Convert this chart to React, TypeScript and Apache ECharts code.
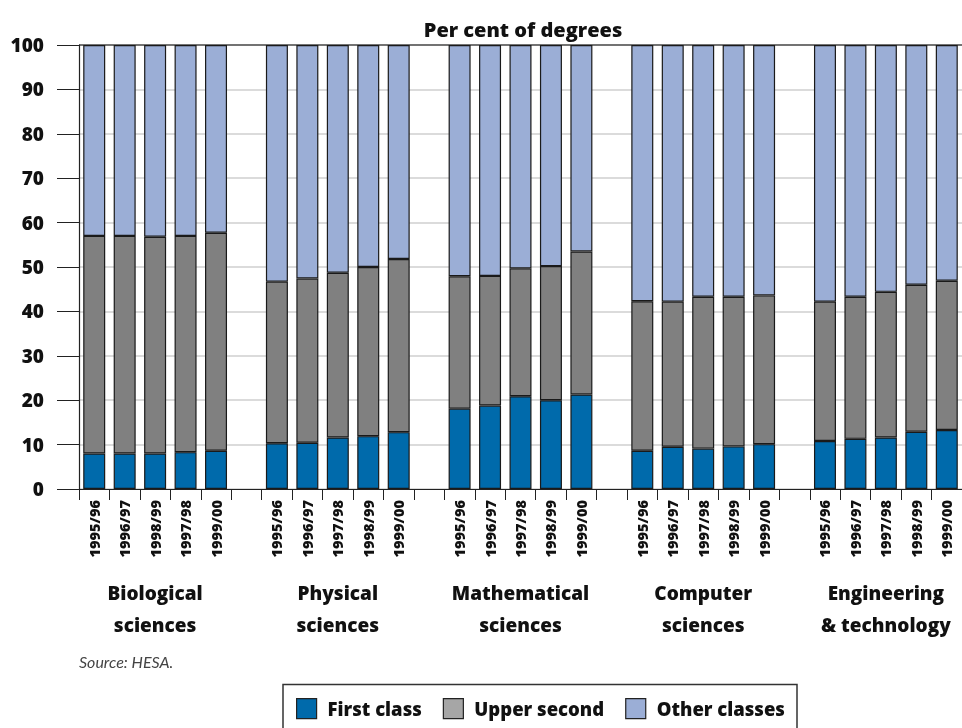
import React, { useEffect, useRef } from "react";
import * as echarts from "echarts";

const groupNames = [
  "Biological\nsciences",
  "Physical\nsciences",
  "Mathematical\nsciences",
  "Computer\nsciences",
  "Engineering\n& technology",
];
const yearLabels = [
  ["1995/96", "1996/97", "1998/99", "1997/98", "1999/00"],
  ["1995/96", "1996/97", "1997/98", "1998/99", "1999/00"],
  ["1995/96", "1996/97", "1997/98", "1998/99", "1999/00"],
  ["1995/96", "1996/97", "1997/98", "1998/99", "1999/00"],
  ["1995/96", "1996/97", "1997/98", "1998/99", "1999/00"],
];
const firstClass = [
  [8.0, 8.0, 8.0, 8.3, 8.6],
  [10.3, 10.4, 11.6, 11.9, 12.8],
  [18.1, 18.8, 20.9, 20.0, 21.3],
  [8.6, 9.5, 9.1, 9.6, 10.1],
  [10.8, 11.3, 11.6, 12.9, 13.3],
];
const upperSecond = [
  [49.0, 49.0, 48.8, 48.7, 49.1],
  [36.4, 37.0, 37.1, 38.1, 39.0],
  [29.8, 29.2, 28.8, 30.2, 32.2],
  [33.7, 32.7, 34.2, 33.7, 33.5],
  [31.4, 32.0, 32.8, 33.1, 33.6],
];
const otherClasses = [
  [43.0, 43.0, 43.2, 43.0, 42.3],
  [53.3, 52.6, 51.3, 50.0, 48.2],
  [52.1, 52.0, 50.3, 49.8, 46.5],
  [57.7, 57.8, 56.7, 56.7, 56.4],
  [57.8, 56.7, 55.6, 54.0, 53.1],
];
const yTicks = [0, 10, 20, 30, 40, 50, 60, 70, 80, 90, 100];
const seriesNames = ["First class", "Upper second", "Other classes"];

const FONT = "'Open Sans', Lato, sans-serif";
const W = 800;

function flatten(groups: (string | number)[][], gap: string | number): (string | number)[] {
  const out: (string | number)[] = [];
  groups.forEach((g, i) => {
    if (i > 0) out.push(gap);
    g.forEach((v) => out.push(v));
  });
  return out;
}

export default function App() {
  const ref = useRef<HTMLDivElement>(null);
  useEffect(() => {
    if (!ref.current) return;
    const chart = echarts.init(ref.current, null, { renderer: "svg" });
    const cats = flatten(yearLabels, "");
    const catKeys = cats.map((c, i) => `${i}`);
    const groupAxis: string[] = catKeys.map(() => "");
    groupNames.forEach((g, i) => {
      groupAxis[i * 6 + 2] = g;
    });
    const gridColors = yTicks.map((t) => (t === 100 ? "#444" : "#cfcfcf"));
    chart.setOption({
      animation: false,
      title: {
        text: "Per cent of degrees",
        left: 523,
        textAlign: "center",
        top: 19,
        padding: 0,
        textStyle: { fontFamily: FONT, fontWeight: W, fontSize: 20, color: "#111" },
      },
      grid: { left: 79, right: -6, top: 45, bottom: 239, containLabel: false },
      legend: {
        left: 296,
        top: 698,
        padding: 0,
        itemWidth: 20,
        itemHeight: 20,
        itemGap: 21,
        icon: "rect",
        selectedMode: false,
        textStyle: {
          fontFamily: FONT,
          fontWeight: W,
          fontSize: 18.5,
          color: "#111",
          padding: [0, 0, 0, 6],
        },
        data: [
          { name: seriesNames[0], itemStyle: { color: "#006AAB", borderColor: "#222", borderWidth: 1.2 } },
          { name: seriesNames[1], itemStyle: { color: "#A6A6A6", borderColor: "#222", borderWidth: 1.2 } },
          { name: seriesNames[2], itemStyle: { color: "#9BAED6", borderColor: "#222", borderWidth: 1.2 } },
        ],
      },
      graphic: [
        {
          type: "rect",
          shape: { x: 283, y: 684.5, width: 514, height: 60 },
          style: { fill: "none", stroke: "#333", lineWidth: 1.5 },
          silent: true,
        },
        {
          type: "text",
          left: 79,
          top: 653,
          style: {
            text: "Source: HESA.",
            fontFamily: "Lato, sans-serif",
            fontStyle: "italic",
            fontSize: 16,
            fill: "#444",
          },
        },
      ],
      xAxis: [
        {
          type: "category",
          data: catKeys,
          axisLine: { show: true, lineStyle: { color: "#222", width: 1.2 } },
          axisTick: { show: true, length: 11, lineStyle: { color: "#222" } },
          axisLabel: {
            interval: 0,
            rotate: 90,
            margin: 11,
            fontFamily: FONT,
            fontWeight: W,
            fontSize: 14.5,
            color: "#111",
            formatter: (v: string) => cats[Number(v)] as string,
          },
          splitLine: { show: false },
        },
        {
          type: "category",
          position: "bottom",
          data: groupAxis.map((g, i) => (g ? g : `_${i}`)),
          axisLine: { show: false },
          axisTick: { show: false },
          axisLabel: {
            interval: 0,
            margin: 88,
            fontFamily: FONT,
            fontWeight: W,
            fontSize: 19,
            lineHeight: 32,
            color: "#111",
            formatter: (v: string) => (v.startsWith("_") ? "" : v),
          },
        },
      ],
      yAxis: {
        type: "value",
        min: 0,
        max: 100,
        interval: 10,
        axisLine: { show: true, lineStyle: { color: "#222", width: 1.2 } },
        axisTick: { show: true, length: 22, lineStyle: { color: "#222" } },
        axisLabel: {
          margin: 35,
          fontFamily: FONT,
          fontWeight: W,
          fontSize: 19,
          color: "#111",
        },
        splitLine: { show: true, lineStyle: { color: gridColors, width: 1.5 } },
      },
      series: [
        { name: seriesNames[0], data: flatten(firstClass, "-"), color: "#006AAB" },
        { name: seriesNames[1], data: flatten(upperSecond, "-"), color: "#808080" },
        { name: seriesNames[2], data: flatten(otherClasses, "-"), color: "#9BAED6" },
      ].map((s) => ({
        type: "bar",
        stack: "total",
        name: s.name,
        data: s.data,
        xAxisIndex: 0,
        barWidth: 22,
        itemStyle: { color: s.color, borderColor: "#1a1a1a", borderWidth: 1.2 },
      })),
    });
    return () => chart.dispose();
  }, []);
  return <div ref={ref} style={{ width: 962, height: 728, position: "fixed", left: 0, top: 0 }} />;
}
